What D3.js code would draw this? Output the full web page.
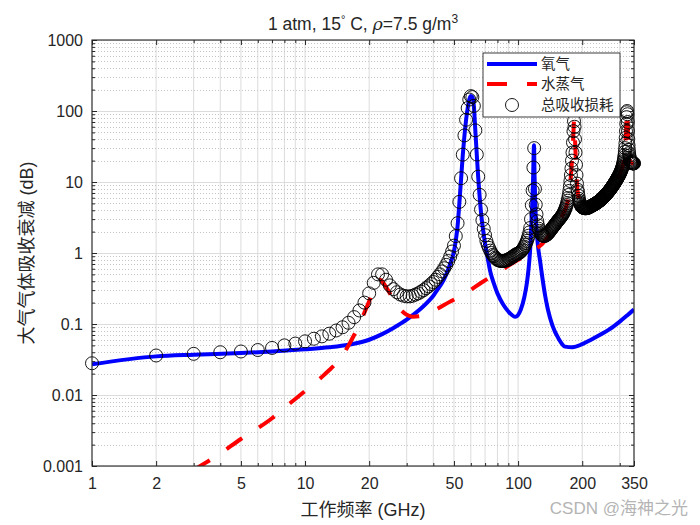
<!DOCTYPE html>
<html><head><meta charset="utf-8">
<script src="https://cdn.jsdelivr.net/npm/d3@7"></script>
<style>body{margin:0;background:#fff} svg{display:block}</style>
</head><body>
<svg id="chart" width="700" height="525"></svg>
<script>
// ---------- data ----------
const xTickValues = [1, 2, 5, 10, 20, 50, 100, 200, 350];
const xTickLabels = ["1", "2", "5", "10", "20", "50", "100", "200", "350"];
const yTickValues = [0.001, 0.01, 0.1, 1, 10, 100, 1000];
const yTickLabels = ["0.001", "0.01", "0.1", "1", "10", "100", "1000"];
const seriesNames = ["氧气", "水蒸气", "总吸收损耗"];

// oxygen attenuation (dB)
const oxyFreq = [1, 2, 3, 5, 7, 10, 13, 16, 20, 23, 26, 30, 32, 35, 38, 40, 42, 44, 46, 48,
  50, 51, 52, 53, 54, 55, 56, 57, 58, 59, 60, 61, 62, 63, 64, 65, 66, 67, 68, 69,
  70, 72, 74, 77, 80, 85, 90, 97, 103, 107, 110, 112, 114, 116, 117.5, 118.75, 119.5, 120.5, 122, 124,
  127, 130, 134, 138, 145, 155, 166, 180, 200, 220, 250, 280, 300, 325, 350];
const oxyLoss = [0.027, 0.035, 0.037, 0.039, 0.041, 0.044, 0.047, 0.051, 0.06, 0.072, 0.088, 0.115, 0.133, 0.165, 0.21, 0.25, 0.31, 0.38, 0.5, 0.7,
  1.05, 1.5, 2.4, 5, 11, 24, 45, 75, 110, 145, 162, 157, 118, 53, 24, 11.5, 6.2, 3.7, 2.5, 1.8,
  1.35, 0.85, 0.55, 0.37, 0.27, 0.19, 0.15, 0.126, 0.16, 0.24, 0.38, 0.6, 1.15, 3.6, 10, 33, 12, 4.5, 2.2, 1.25,
  0.75, 0.45, 0.25, 0.16, 0.095, 0.062, 0.048, 0.047, 0.052, 0.06, 0.074, 0.092, 0.108, 0.132, 0.16];

// water vapour attenuation (dB)
const h2oFreq = [3, 4, 5, 6, 7, 8, 9, 10, 11, 12, 13, 14, 15, 16, 17, 18, 19, 20, 21, 22,
  22.5, 23, 24, 25, 26, 27, 28, 30, 32, 35, 38, 42, 47, 56, 68, 80, 90, 100, 114, 124,
  130, 140, 150, 160, 165, 170, 174, 177, 179, 181, 182, 183, 184, 185, 187, 190, 195, 200, 210, 220,
  240, 260, 280, 300, 310, 315, 318, 320, 322, 324, 325, 326, 328, 330, 335, 340, 350];
const h2oLoss = [0.00088, 0.0015, 0.0024, 0.0034, 0.0047, 0.0066, 0.0088, 0.0114, 0.0143, 0.018, 0.0225, 0.028, 0.036, 0.05, 0.07, 0.098, 0.145, 0.21, 0.31, 0.4,
  0.42, 0.4, 0.33, 0.27, 0.215, 0.18, 0.16, 0.135, 0.127, 0.13, 0.143, 0.165, 0.2, 0.265, 0.39, 0.53, 0.66, 0.8, 1.05, 1.2,
  1.35, 1.8, 2.5, 3.25, 3.85, 5.0, 7.45, 12.4, 19.9, 36, 52, 72, 60, 40, 17.5, 7.75, 5.05, 4.4, 4.23, 4.5,
  5.3, 6.7, 9.0, 12.9, 16.9, 22, 29.9, 41.9, 65.9, 95.9, 99.9, 89.9, 51.9, 32.9, 20.9, 18.8, 18.1];

// total attenuation (dB), one marker per GHz from 1 to 350 GHz
const totalFreq = d3.range(1, 351);
const totalLoss = [
  0.028, 0.036, 0.038, 0.040, 0.041, 0.043, 0.046, 0.050, 0.053, 0.057,
  0.062, 0.067, 0.073, 0.081, 0.090, 0.104, 0.125, 0.155, 0.20, 0.27,
  0.38, 0.50, 0.50, 0.42, 0.35, 0.31, 0.28, 0.26, 0.25, 0.245,
  0.245, 0.25, 0.26, 0.27, 0.285, 0.30, 0.32, 0.34, 0.365, 0.39,
  0.42, 0.46, 0.50, 0.55, 0.61, 0.68, 0.77, 0.89, 1.05, 1.27,
  1.73, 2.63, 5.25, 11.3, 24.3, 45.3, 75.3, 110, 145, 162,
  157, 118, 53.4, 24.4, 11.9, 6.6, 4.1, 2.9, 2.2, 1.78,
  1.48, 1.3, 1.18, 1.08, 1.0, 0.94, 0.9, 0.86, 0.83, 0.8,
  0.79, 0.78, 0.77, 0.77, 0.77, 0.77, 0.78, 0.79, 0.8, 0.81,
  0.83, 0.84, 0.86, 0.88, 0.9, 0.92, 0.94, 0.96, 0.97, 0.98,
  1.0, 1.02, 1.05, 1.08, 1.12, 1.17, 1.23, 1.3, 1.38, 1.48,
  1.6, 1.75, 1.95, 2.25, 3.0, 4.7, 7.6, 16, 30, 8,
  4.8, 3.5, 2.8, 2.45, 2.2, 2.05, 1.95, 1.87, 1.8, 1.77,
  1.75, 1.74, 1.74, 1.75, 1.77, 1.8, 1.83, 1.87, 1.92, 1.97,
  2.03, 2.09, 2.15, 2.21, 2.27, 2.33, 2.39, 2.45, 2.52, 2.58,
  2.65, 2.72, 2.79, 2.86, 2.93, 3.0, 3.07, 3.14, 3.22, 3.3,
  3.4, 3.5, 3.62, 3.75, 3.9, 4.08, 4.28, 4.5, 4.75, 5.05,
  5.45, 5.95, 6.6, 7.5, 8.7, 10.3, 12.5, 15.5, 20, 26,
  36, 52, 72, 60, 40, 26, 17.5, 12.5, 9.5, 7.8,
  7.2, 6.4, 5.8, 5.4, 5.1, 4.9, 4.75, 4.6, 4.5, 4.45,
  4.4, 4.35, 4.32, 4.3, 4.28, 4.27, 4.27, 4.27, 4.28, 4.29,
  4.3, 4.32, 4.34, 4.37, 4.4, 4.43, 4.46, 4.5, 4.53, 4.56,
  4.6, 4.63, 4.66, 4.7, 4.73, 4.77, 4.8, 4.84, 4.88, 4.92,
  4.96, 5.0, 5.04, 5.08, 5.12, 5.17, 5.22, 5.27, 5.32, 5.37,
  5.42, 5.48, 5.54, 5.6, 5.66, 5.72, 5.78, 5.85, 5.92, 5.99,
  6.06, 6.13, 6.2, 6.28, 6.36, 6.44, 6.52, 6.6, 6.69, 6.78,
  6.87, 6.96, 7.05, 7.15, 7.25, 7.35, 7.45, 7.56, 7.67, 7.78,
  7.9, 8.02, 8.14, 8.27, 8.4, 8.53, 8.67, 8.81, 8.95, 9.1,
  9.25, 9.4, 9.56, 9.72, 9.89, 10.06, 10.24, 10.42, 10.6, 10.8,
  11.0, 11.2, 11.4, 11.6, 11.8, 12.0, 12.25, 12.5, 12.75, 13.0,
  13.3, 13.6, 13.9, 14.2, 14.6, 15.0, 15.4, 15.9, 16.4, 17.0,
  17.7, 18.5, 19.5, 20.7, 22.2, 24, 26.5, 30, 35, 42,
  52, 66, 82, 96, 100, 90, 70, 52, 40, 33,
  28.5, 25.5, 23.5, 22, 21, 20.3, 19.8, 19.4, 19.1, 18.9,
  18.7, 18.6, 18.5, 18.4, 18.3, 18.3, 18.3, 18.3, 18.3, 18.3
];

// ---------- layout ----------
const L = 92, R = 634, T = 40, B = 466;
const svg = d3.select("#chart");
const x = d3.scaleLog().domain([1, 350]).range([L, R]);
const y = d3.scaleLog().domain([0.001, 1000]).range([B, T]);
const latin = "'Liberation Sans', Arial, Helvetica, sans-serif";
const cjk = "'Liberation Sans', Arial, 'Noto Sans CJK SC', sans-serif";
const txt = "#262626";

svg.append("rect").attr("x", 0).attr("y", 0).attr("width", 700).attr("height", 525).attr("fill", "#fff");

// minor positions
const xMinor = [];
[1, 10, 100].forEach(d => { for (let k = 1; k <= 9; k++) { const v = k * d; if (v <= 350 && !xTickValues.includes(v)) xMinor.push(v); } });
const yMinor = [];
[0.001, 0.01, 0.1, 1, 10, 100].forEach(d => { for (let k = 2; k <= 9; k++) yMinor.push(k * d); });

const grid = svg.append("g");
grid.selectAll("line.vx").data(xTickValues.concat(xMinor)).join("line")
  .attr("x1", d => x(d)).attr("x2", d => x(d)).attr("y1", T).attr("y2", B)
  .attr("stroke", "#dcdcdc").attr("stroke-width", 1);
grid.selectAll("line.hm").data(yMinor).join("line")
  .attr("x1", L).attr("x2", R).attr("y1", d => Math.round(y(d)) + 0.5).attr("y2", d => Math.round(y(d)) + 0.5)
  .attr("stroke", "#c4c4c4").attr("stroke-width", 1).attr("stroke-dasharray", "1,2");
grid.selectAll("line.hM").data(yTickValues).join("line")
  .attr("x1", L).attr("x2", R).attr("y1", d => Math.round(y(d)) + 0.5).attr("y2", d => Math.round(y(d)) + 0.5)
  .attr("stroke", "#dcdcdc").attr("stroke-width", 1);

// ---------- series ----------
svg.append("clipPath").attr("id", "clip").append("rect")
  .attr("x", L).attr("y", T).attr("width", R - L).attr("height", B - T);
const plot = svg.append("g").attr("clip-path", "url(#clip)");
const line = d3.line().x(d => x(d[0])).y(d => y(d[1])).curve(d3.curveMonotoneX);

plot.append("path").datum(d3.zip(oxyFreq, oxyLoss)).attr("d", line)
  .attr("fill", "none").attr("stroke", "#0000ff").attr("stroke-width", 4).attr("stroke-linejoin", "round");
plot.append("path").datum(d3.zip(h2oFreq, h2oLoss)).attr("d", line)
  .attr("fill", "none").attr("stroke", "#ff0000").attr("stroke-width", 4).attr("stroke-dasharray", "19,20");
// markers are not clipped (they overhang the axes at 1 and 350 GHz)
svg.append("g").selectAll("circle").data(d3.zip(totalFreq, totalLoss)).join("circle")
  .attr("cx", d => x(d[0])).attr("cy", d => y(d[1])).attr("r", 6.5)
  .attr("fill", "none").attr("stroke", "#000").attr("stroke-width", 0.9);

// ---------- axes ----------
const ax = svg.append("g");
ax.append("g").attr("transform", `translate(0,${B})`)
  .call(d3.axisBottom(x).tickValues(xTickValues).tickFormat((d, i) => xTickLabels[i]).tickSizeInner(-5).tickSizeOuter(0).tickPadding(12));
ax.append("g").attr("transform", `translate(0,${B})`)
  .call(d3.axisBottom(x).tickValues(xMinor).tickFormat("").tickSizeInner(-3).tickSizeOuter(0));
ax.append("g").attr("transform", `translate(0,${T})`)
  .call(d3.axisTop(x).tickValues(xTickValues).tickFormat("").tickSizeInner(-5).tickSizeOuter(0));
ax.append("g").attr("transform", `translate(0,${T})`)
  .call(d3.axisTop(x).tickValues(xMinor).tickFormat("").tickSizeInner(-3).tickSizeOuter(0));
ax.append("g").attr("transform", `translate(${L},0)`)
  .call(d3.axisLeft(y).tickValues(yTickValues).tickFormat((d, i) => yTickLabels[i]).tickSizeInner(-5).tickSizeOuter(0).tickPadding(9));
ax.append("g").attr("transform", `translate(${L},0)`)
  .call(d3.axisLeft(y).tickValues(yMinor).tickFormat("").tickSizeInner(-3).tickSizeOuter(0));
ax.append("g").attr("transform", `translate(${R},0)`)
  .call(d3.axisRight(y).tickValues(yTickValues).tickFormat("").tickSizeInner(-5).tickSizeOuter(0));
ax.append("g").attr("transform", `translate(${R},0)`)
  .call(d3.axisRight(y).tickValues(yMinor).tickFormat("").tickSizeInner(-3).tickSizeOuter(0));
ax.selectAll(".domain").remove();
ax.selectAll(".tick line").attr("stroke", txt).attr("stroke-width", 1);
ax.selectAll(".tick text").attr("fill", txt).style("font-family", latin).style("font-size", "16px");

svg.append("rect").attr("x", L).attr("y", T).attr("width", R - L).attr("height", B - T)
  .attr("fill", "none").attr("stroke", txt).attr("stroke-width", 1.1);

// ---------- labels ----------
const title = svg.append("text").attr("x", (L + R) / 2).attr("y", 30).attr("text-anchor", "middle")
  .attr("fill", txt).style("font-family", latin).style("font-size", "17.5px");
title.append("tspan").text("1 atm, 15");
title.append("tspan").attr("dy", -7).style("font-size", "11px").text("\u00b0");
title.append("tspan").attr("dy", 7).text(" C, ");
title.append("tspan").style("font-style", "italic").style("font-family", "'DejaVu Serif', serif").text("\u03c1");
title.append("tspan").text("=7.5 g/m");
title.append("tspan").attr("dy", -7).style("font-size", "12px").text("3");

svg.append("text").attr("x", (L + R) / 2).attr("y", 516).attr("text-anchor", "middle")
  .attr("fill", txt).style("font-family", cjk).style("font-size", "18px").text("工作频率 (GHz)");
svg.append("text").attr("transform", `translate(33,${(T + B) / 2}) rotate(-90)`).attr("text-anchor", "middle")
  .attr("fill", txt).style("font-family", cjk).style("font-size", "18px").text("大气气体吸收衰减 (dB)");

// ---------- legend ----------
const lg = svg.append("g");
lg.append("rect").attr("x", 483).attr("y", 53).attr("width", 137).attr("height", 64)
  .attr("fill", "#fff").attr("stroke", txt).attr("stroke-width", 0.9);
const rows = [64, 84, 105];
lg.append("line").attr("x1", 487).attr("x2", 537).attr("y1", rows[0]).attr("y2", rows[0])
  .attr("stroke", "#0000ff").attr("stroke-width", 4);
lg.append("line").attr("x1", 487).attr("x2", 537).attr("y1", rows[1]).attr("y2", rows[1])
  .attr("stroke", "#ff0000").attr("stroke-width", 4).attr("stroke-dasharray", "20,20");
lg.append("circle").attr("cx", 512).attr("cy", rows[2]).attr("r", 6.5)
  .attr("fill", "none").attr("stroke", "#000").attr("stroke-width", 0.9);
seriesNames.forEach((n, i) => {
  lg.append("text").attr("x", 541).attr("y", rows[i]).attr("dy", "0.36em")
    .attr("fill", txt).style("font-family", cjk).style("font-size", "14.5px").text(n);
});

// watermark
svg.append("text").attr("x", 688).attr("y", 514).attr("text-anchor", "end")
  .attr("fill", "#b4b4b4").style("font-family", cjk).style("font-size", "17px").text("CSDN @海神之光");
</script>
</body></html>
